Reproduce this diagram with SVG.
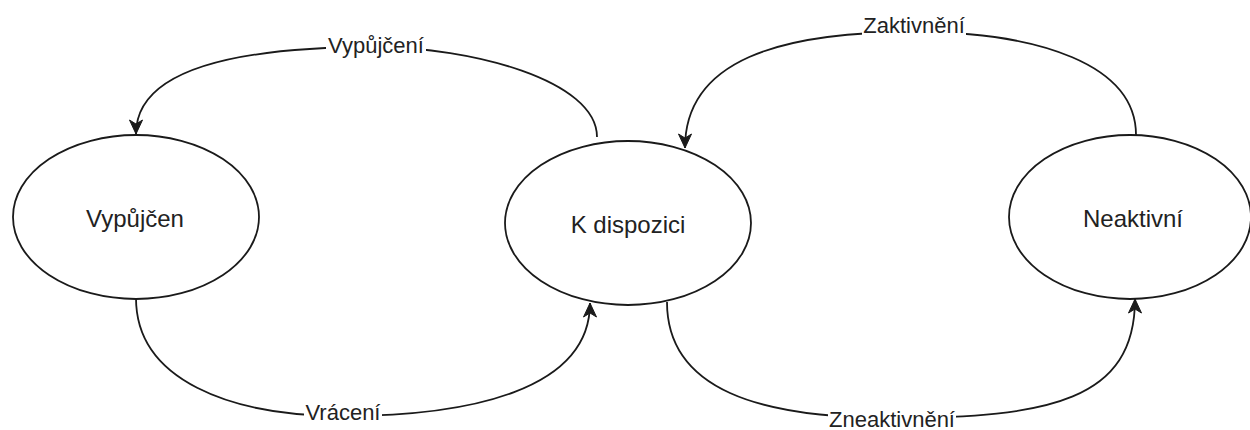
<svg xmlns="http://www.w3.org/2000/svg" width="1250" height="430" viewBox="0 0 1250 430">
<style>
.node{fill:#fff;stroke:#1a1a1a;stroke-width:1.8}
.ntext{font-family:"Liberation Sans",Arial,sans-serif;font-size:24px;fill:#222;text-anchor:middle}
.edge{fill:none;stroke:#1a1a1a;stroke-width:1.8;marker-end:url(#arr)}
.edge2{fill:none;stroke:#1a1a1a;stroke-width:1.8}
.ltext{font-family:"Liberation Sans",Arial,sans-serif;font-size:22px;fill:#222;text-anchor:middle}
.lbg{fill:#fff}
</style>
<defs>
<marker id="arr" markerUnits="userSpaceOnUse" markerWidth="16" markerHeight="16" viewBox="0 0 16 16" refX="15" refY="8" orient="auto">
<path d="M1,1.5 L15,8 L1,14.5 L5,8 Z" fill="#1a1a1a" stroke="#1a1a1a" stroke-width="1" stroke-linejoin="miter"/>
</marker>
</defs>
<rect width="1250" height="430" fill="#fff"/>
<g id="connectors">
<path class="edge2" d="M597,137 C597,80 470,47 376,47"/>
<path class="edge" d="M376,47 C250,47 136,65 136,134"/>
<path class="edge2" d="M1136,135 C1136,65 1040,32 914,32"/>
<path class="edge" d="M914,32 C780,32 685,60 685,148"/>
<path class="edge2" d="M136,298 C136,380 230,416 343,416"/>
<path class="edge" d="M343,416 C470,416 590,390 590,303"/>
<path class="edge2" d="M667,302 C667,390 760,418 892,418"/>
<path class="edge" d="M892,418 C1050,418 1135,400 1135,299"/>
<g id="label-vypujceni">
<rect class="lbg" x="326" y="35" width="100" height="24"/>
<text class="ltext" x="376" y="53">Vypůjčení</text>
</g>
<g id="label-zaktivneni">
<rect class="lbg" x="862" y="14" width="104" height="24"/>
<text class="ltext" x="914" y="33">Zaktivnění</text>
</g>
<g id="label-vraceni">
<rect class="lbg" x="304" y="402" width="78" height="24"/>
<text class="ltext" x="343" y="420">Vrácení</text>
</g>
<g id="label-zneaktivneni">
<rect class="lbg" x="828" y="408" width="128" height="22"/>
<text class="ltext" x="892" y="427">Zneaktivnění</text>
</g>
</g>
<g id="node-vypujcen">
<ellipse class="node" cx="136" cy="217" rx="123" ry="82"/>
<text class="ntext" x="135" y="227">Vypůjčen</text>
</g>
<g id="node-k-dispozici">
<ellipse class="node" cx="628" cy="223" rx="123" ry="82"/>
<text class="ntext" x="628" y="233">K dispozici</text>
</g>
<g id="node-neaktivni">
<ellipse class="node" cx="1130" cy="217" rx="121" ry="82"/>
<text class="ntext" x="1133" y="227">Neaktivní</text>
</g>
</svg>
